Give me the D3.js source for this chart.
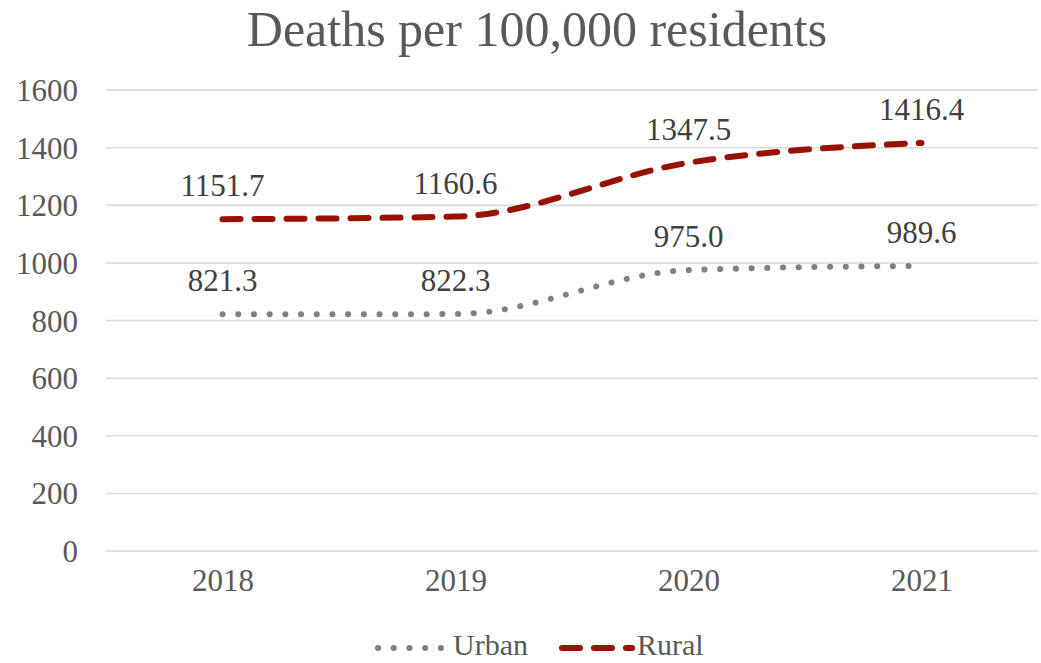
<!DOCTYPE html>
<html><head><meta charset="utf-8">
<script src="https://cdn.jsdelivr.net/npm/d3@7"></script>
<style>body{margin:0;background:#fff}svg{display:block}svg text{font-family:"Liberation Serif","Tinos","Times New Roman","DejaVu Serif",serif !important}</style>
</head><body><svg id="c" width="1041" height="663"></svg>
<script>
const years = ["2018","2019","2020","2021"];
const urban = [821.3, 822.3, 975.0, 989.6];
const rural = [1151.7, 1160.6, 1347.5, 1416.4];
const yTicks = [0,200,400,600,800,1000,1200,1400,1600];
const title = "Deaths per 100,000 residents";

const svg = d3.select("#c");
const x = d3.scalePoint().domain(years).range([106,1038]).padding(0.5);
const y = d3.scaleLinear().domain([0,1600]).range([551,90]);

svg.append("text").attr("x",537).attr("y",46).attr("text-anchor","middle")
  .attr("font-size",50).attr("fill","#595959").text(title);

svg.append("g").selectAll("line").data(yTicks).join("line")
  .attr("x1",106).attr("x2",1038).attr("y1",d=>y(d)).attr("y2",d=>y(d))
  .attr("stroke","#d9d9d9").attr("stroke-width",1.5);

const yAxis = d3.axisLeft(y).tickValues(yTicks).tickFormat(d3.format("d")).tickSize(0).tickPadding(0);
const ya = svg.append("g").attr("transform","translate(78,0)").call(yAxis);
ya.select(".domain").remove();
ya.selectAll("text").attr("font-size",31).attr("fill","#595959").attr("dy","0.34em");

const xAxis = d3.axisBottom(x).tickSize(0).tickPadding(0);
const xa = svg.append("g").attr("transform","translate(0,580)").call(xAxis);
xa.select(".domain").remove();
xa.selectAll("text").attr("font-size",31).attr("fill","#595959").attr("dy","0.34em");

const line = d3.line().x((d,i)=>x(years[i])).y(d=>y(d)).curve(d3.curveMonotoneX);

svg.append("path").datum(urban).attr("d",line).attr("fill","none")
  .attr("stroke","#808080").attr("stroke-width",6).attr("stroke-linecap","round")
  .attr("stroke-dasharray","0.1,15.6");
svg.append("path").datum(rural).attr("d",line).attr("fill","none")
  .attr("stroke","#991100").attr("stroke-width",6).attr("stroke-linecap","round")
  .attr("stroke-dasharray","18,14");

function labels(data){
  svg.append("g").selectAll("text").data(data).join("text")
    .attr("x",(d,i)=>x(years[i])).attr("y",d=>y(d)-23)
    .attr("text-anchor","middle").attr("font-size",31).attr("fill","#404040")
    .text(d=>d.toFixed(1));
}
labels(urban); labels(rural);

const leg = svg.append("g");
const items = [{name:"Urban",color:"#808080",dash:"0.1,15.6",x0:378,x1:448},
               {name:"Rural",color:"#991100",dash:"18,14",x0:562,x1:632}];
items.forEach(it=>{
  leg.append("line").attr("x1",it.x0).attr("x2",it.x1).attr("y1",648).attr("y2",648)
    .attr("stroke",it.color).attr("stroke-width",6).attr("stroke-linecap","round")
    .attr("stroke-dasharray",it.dash);
  leg.append("text").attr("x",it.x1+5).attr("y",655)
    .attr("font-size",30).attr("fill","#595959").text(it.name);
});
</script></body></html>
